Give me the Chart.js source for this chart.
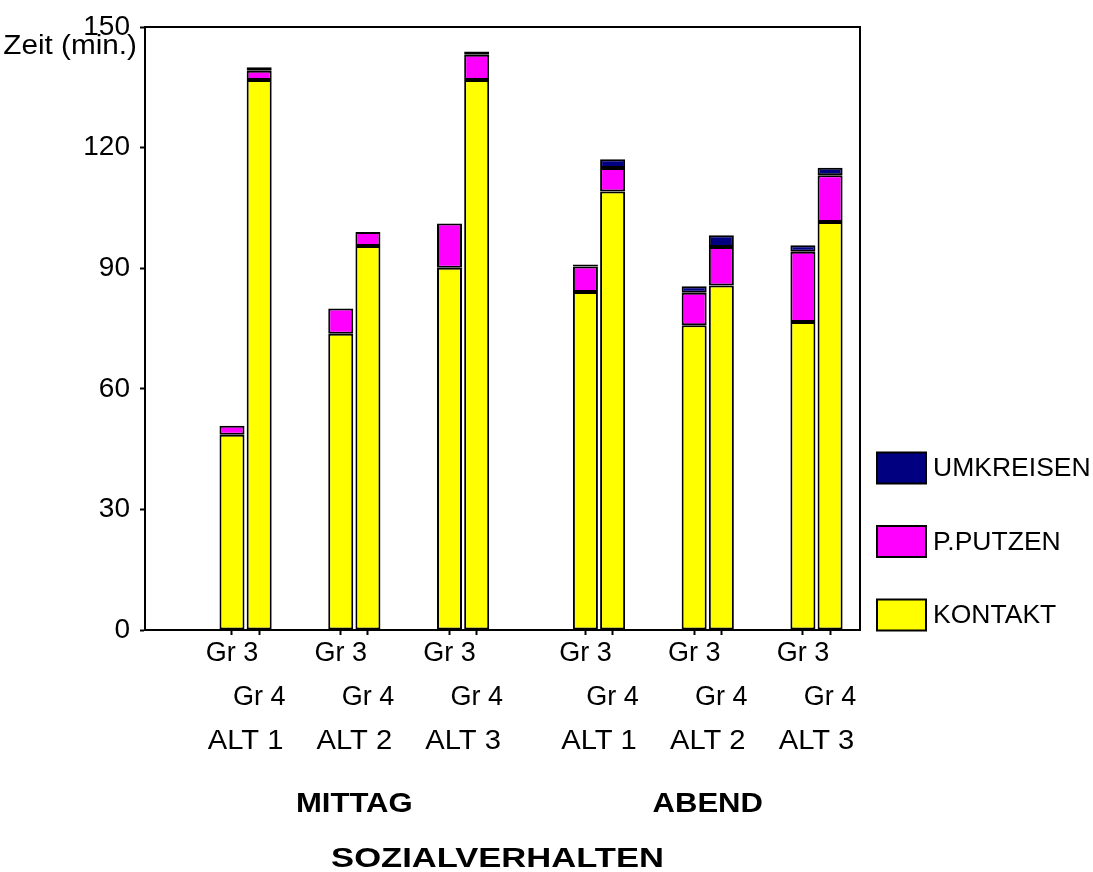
<!DOCTYPE html>
<html>
<head>
<meta charset="utf-8">
<script src="https://cdn.jsdelivr.net/npm/chart.js@4.4.0/dist/chart.umd.min.js"></script>
<style>
  html, body { margin: 0; padding: 0; background: #fff; }
  #wrap { width: 1093px; height: 872px; }
</style>
</head>
<body>
<div id="wrap"><canvas id="chart" width="1093" height="872"></canvas></div>
<script>
// Kategorien
const gruppen = ['MITTAG', 'ABEND'];
const alternativen = ['ALT 1', 'ALT 2', 'ALT 3'];
const groessen = ['Gr 3', 'Gr 4'];

// Werte in Minuten, Reihenfolge: MITTAG ALT1 Gr3, Gr4, ALT2 Gr3, Gr4, ALT3 Gr3, Gr4, dann ABEND
const kontakt   = [48.6, 136.8, 73.7, 95.5, 90.1, 136.8, 84.1, 109.1, 75.8, 85.7, 76.6, 101.5];
const pputzen   = [2.2, 2.3, 6.3, 3.5, 11.0, 6.3, 6.3, 5.8, 8.1, 9.6, 17.5, 11.6];
const umkreisen = [0, 0.9, 0, 0, 0, 0.8, 0.5, 2.2, 1.6, 2.9, 1.6, 1.9];

const yMax = 150;
const yStep = 30;

const farben = {
    kontakt: '#FFFF00',
    pputzen: '#FF00FF',
    umkreisen: '#000080'
};

const SCHRIFT = '"Liberation Sans", Arial, sans-serif';

// Slot-Position jedes Balkens: Gruppen- und Alternativen-Abstand in Balkenbreiten
const SLOTS_ALT = 4;
const SLOTS_GRUPPE = 13;

function slotFuer(i) {
    const g = Math.floor(i / (alternativen.length * groessen.length));
    const a = Math.floor(i / groessen.length) % alternativen.length;
    const r = i % groessen.length;
    return g * SLOTS_GRUPPE + a * SLOTS_ALT + r;
}

const slots = kontakt.map((v, i) => slotFuer(i));
const slotLabel = {};
slots.forEach((s, i) => {
    const r = i % groessen.length;
    slotLabel[s] = r === 0 ? groessen[r] : ['', groessen[r]];
});

function reihe(werte) {
    return werte.map((v, i) => ({ x: slots[i], y: v }));
}

const balkenStil = {
    borderColor: '#000',
    borderWidth: 2,
    borderSkipped: false,
    barPercentage: 0.92,
    categoryPercentage: 1
};

// Text horizontal gestreckt zeichnen (Original ist breit gezogen)
function text(ctx, t, x, y, font, streck, align) {
    ctx.save();
    ctx.font = font;
    ctx.textAlign = align || 'center';
    ctx.translate(x, y);
    ctx.scale(streck, 1);
    ctx.fillText(t, 0, 0);
    ctx.restore();
}

// Texte unter der Achse, Rahmen und Legende
const beschriftung = {
    id: 'beschriftung',
    afterDraw(chart) {
        const ctx = chart.ctx;
        const x = chart.scales.x;
        const a = chart.chartArea;
        ctx.save();

        // Rahmen oben/rechts
        ctx.strokeStyle = '#000';
        ctx.lineWidth = 2;
        ctx.beginPath();
        ctx.moveTo(a.left, a.top);
        ctx.lineTo(a.right, a.top);
        ctx.lineTo(a.right, a.bottom);
        ctx.stroke();

        ctx.fillStyle = '#000';
        ctx.textBaseline = 'middle';

        text(ctx, 'Zeit (min.)', 137, 47, '27px ' + SCHRIFT, 1.1, 'right');

        const proGruppe = alternativen.length * groessen.length;
        gruppen.forEach((g, gi) => {
            alternativen.forEach((alt, ai) => {
                const i0 = gi * proGruppe + ai * groessen.length;
                const mitte = (x.getPixelForValue(slots[i0]) + x.getPixelForValue(slots[i0 + 1])) / 2;
                text(ctx, alt, mitte, 742, '27px ' + SCHRIFT, 1.08);
                if (ai === 1) {
                    text(ctx, g, mitte, 805, 'bold 27px ' + SCHRIFT, 1.15);
                }
            });
        });

        text(ctx, 'SOZIALVERHALTEN', (a.left + a.right) / 2 - 5, 860, 'bold 27px ' + SCHRIFT, 1.28);

        // Legende
        const eintraege = [...chart.data.datasets].reverse();
        eintraege.forEach((ds, k) => {
            const cy = 468 + k * 73.5;
            ctx.fillStyle = ds.backgroundColor;
            ctx.fillRect(877, cy - 15.5, 49, 31);
            ctx.strokeStyle = '#000';
            ctx.lineWidth = 2;
            ctx.strokeRect(877, cy - 15.5, 49, 31);
            ctx.fillStyle = '#000';
            text(ctx, ds.label, 933, cy + 1, '26px ' + SCHRIFT, 1.02, 'left');
        });

        ctx.restore();
    }
};

new Chart(document.getElementById('chart'), {
    type: 'bar',
    data: {
        datasets: [
            Object.assign({ label: 'KONTAKT', data: reihe(kontakt), backgroundColor: farben.kontakt }, balkenStil),
            Object.assign({ label: 'P.PUTZEN', data: reihe(pputzen), backgroundColor: farben.pputzen }, balkenStil),
            Object.assign({ label: 'UMKREISEN', data: reihe(umkreisen), backgroundColor: farben.umkreisen }, balkenStil)
        ]
    },
    options: {
        responsive: false,
        animation: false,
        layout: { padding: { top: 27, right: 233, left: 0, bottom: 0 } },
        plugins: {
            legend: { display: false },
            tooltip: { enabled: false }
        },
        scales: {
            x: {
                type: 'linear',
                stacked: true,
                offset: false,
                min: -3.2,
                max: 23.1,
                afterBuildTicks: function(scale) {
                    scale.ticks = slots.map(s => ({ value: s }));
                },
                afterFit: function(scale) { scale.height = 242; },
                ticks: {
                    autoSkip: false,
                    maxRotation: 0,
                    minRotation: 0,
                    padding: -3,
                    color: '#000',
                    font: { family: SCHRIFT, size: 27, lineHeight: 1.63 },
                    callback: function(value) { return slotLabel[value]; }
                },
                grid: { offset: false, drawOnChartArea: false, tickLength: 5, color: '#000', tickWidth: 2 },
                border: { color: '#000', width: 2 }
            },
            y: {
                stacked: true,
                min: 0,
                max: yMax,
                afterFit: function(scale) { scale.width = 145; },
                ticks: {
                    stepSize: yStep,
                    padding: 10,
                    color: '#000',
                    font: { family: SCHRIFT, size: 28 }
                },
                grid: { drawOnChartArea: false, tickLength: 5, color: '#000', tickWidth: 2 },
                border: { color: '#000', width: 2 }
            }
        }
    },
    plugins: [beschriftung]
});
</script>
</body>
</html>
